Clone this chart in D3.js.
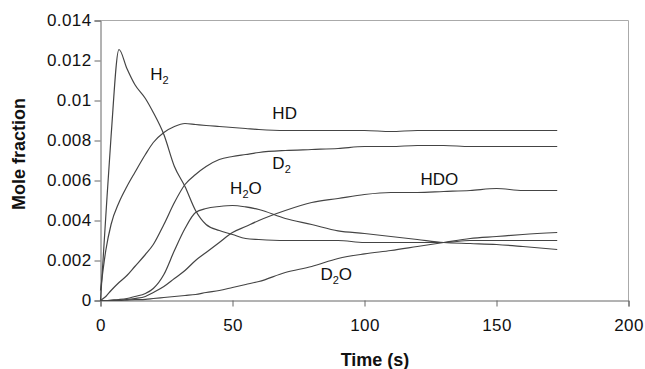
<!DOCTYPE html>
<html>
<head>
<meta charset="utf-8">
<script src="https://cdn.jsdelivr.net/npm/d3@7"></script>
<style>
  body { margin: 0; background: #fff; }
  text { font-family: "Liberation Sans", Arial, sans-serif; fill: #111; }
</style>
</head>
<body>
<div id="chart"></div>
<script>
// time grid (s)
const time = [0, 2, 4, 7, 10, 13, 17, 20, 24, 28, 32, 36, 40, 45, 50, 55, 60, 70, 80, 90, 100, 110, 120, 130, 140, 150, 160, 173];

const h2  = [0, 0.0042, 0.0082, 0.01255, 0.0116, 0.0108, 0.0101, 0.0094, 0.0083, 0.0067, 0.0057, 0.0045, 0.0038, 0.0035, 0.0033, 0.0031, 0.00305, 0.0030, 0.0030, 0.0030, 0.0029, 0.0029, 0.0029, 0.0029, 0.0030, 0.0030, 0.0030, 0.0030];
const hd  = [0.0005, 0.0025, 0.0038, 0.0049, 0.0057, 0.0064, 0.0073, 0.0079, 0.0084, 0.0087, 0.00885, 0.0088, 0.00875, 0.0087, 0.00865, 0.0086, 0.00855, 0.0085, 0.0085, 0.0085, 0.0085, 0.00845, 0.0085, 0.0085, 0.0085, 0.0085, 0.0085, 0.0085];
const d2  = [0, 0.0002, 0.0005, 0.0009, 0.00125, 0.0017, 0.0023, 0.0028, 0.0038, 0.0049, 0.0058, 0.0063, 0.0067, 0.00705, 0.0072, 0.0073, 0.0074, 0.0075, 0.00755, 0.0076, 0.0077, 0.0077, 0.00775, 0.00775, 0.0077, 0.0077, 0.0077, 0.0077];
const h2o = [0, 0, 0.00002, 0.00005, 0.0001, 0.0002, 0.00035, 0.0006, 0.0013, 0.0025, 0.0036, 0.0044, 0.0046, 0.0047, 0.00475, 0.00468, 0.00455, 0.0041, 0.0038, 0.00348, 0.00335, 0.0032, 0.00305, 0.0029, 0.00285, 0.0028, 0.0027, 0.00255];
const hdo = [0, 0, 0, 0.00002, 0.00005, 0.0001, 0.0002, 0.0004, 0.0007, 0.0011, 0.0015, 0.0020, 0.0024, 0.0029, 0.0034, 0.0037, 0.0040, 0.0045, 0.0049, 0.0051, 0.0053, 0.0054, 0.0054, 0.00545, 0.0055, 0.0056, 0.0055, 0.0055];
const d2o = [0, 0, 0, 0, 0.00002, 0.00004, 0.00006, 0.0001, 0.00015, 0.0002, 0.00025, 0.0003, 0.0004, 0.0005, 0.00065, 0.0008, 0.00095, 0.0014, 0.0017, 0.0021, 0.00233, 0.0025, 0.0027, 0.0029, 0.0031, 0.0032, 0.0033, 0.0034];

const series = [h2, hd, d2, h2o, hdo, d2o];

// species labels: [main, subscript, rest] and where they sit (data coords)
const labelText = [["H", "2", ""], ["HD", "", ""], ["D", "2", ""], ["H", "2", "O"], ["HDO", "", ""], ["D", "2", "O"]];
const labelAt = [[18.8, 0.01105], [65.1, 0.0091], [65.1, 0.0066], [49.1, 0.00535], [121.2, 0.0058], [83.3, 0.00105]];

const xTicks = [0, 50, 100, 150, 200];
const yTicks = [0, 0.002, 0.004, 0.006, 0.008, 0.01, 0.012, 0.014];

const W = 645, H = 369;
const margin = {top: 20, right: 17, bottom: 69, left: 100};
const iw = W - margin.left - margin.right;
const ih = H - margin.top - margin.bottom;

const svg = d3.select('#chart').append('svg')
    .attr('width', W)
    .attr('height', H);

const g = svg.append('g')
    .attr('transform', `translate(${margin.left + 0.5},${margin.top + 0.5})`);

const x = d3.scaleLinear().domain([0, 200]).range([0, iw]);
const y = d3.scaleLinear().domain([0, 0.014]).range([ih, 0]);

// light frame on top / right
g.append('path')
    .attr('d', `M0,0H${iw}V${ih}`)
    .attr('fill', 'none')
    .attr('stroke', '#aaa');

const fmt = d => d === 0 ? '0' : String(+d.toFixed(3));

const xAxis = g.append('g')
    .attr('transform', `translate(0,${ih})`)
    .call(d3.axisBottom(x).tickValues(xTicks).tickSize(6).tickPadding(12).tickFormat(d3.format('d')));

const yAxis = g.append('g')
    .call(d3.axisLeft(y).tickValues(yTicks).tickSize(6).tickPadding(3).tickFormat(fmt));

[xAxis, yAxis].forEach(a => {
    a.select('.domain').attr('stroke', '#666');
    a.selectAll('.tick line').attr('stroke', '#666');
    a.selectAll('.tick text')
        .attr('font-size', 17)
        .attr('letter-spacing', 0.4)
        .attr('font-family', '"Liberation Sans", Arial, sans-serif')
        .attr('fill', '#111');
});

const line = d3.line()
    .x((d, i) => x(time[i]))
    .y(d => y(d))
    .curve(d3.curveMonotoneX);

g.selectAll('.series')
    .data(series)
    .join('path')
    .attr('class', 'series')
    .attr('d', line)
    .attr('fill', 'none')
    .attr('stroke', '#444')
    .attr('stroke-width', 1.2);

const lab = g.selectAll('.lab')
    .data(labelText)
    .join('text')
    .attr('class', 'lab')
    .attr('x', (d, i) => x(labelAt[i][0]))
    .attr('y', (d, i) => y(labelAt[i][1]))
    .attr('font-size', 17);

lab.append('tspan').text(d => d[0]);
lab.filter(d => d[1]).append('tspan')
    .attr('font-size', 11)
    .attr('dy', 4)
    .text(d => d[1]);
lab.filter(d => d[2]).append('tspan')
    .attr('dy', -4)
    .text(d => d[2]);

// axis titles
svg.append('text')
    .attr('x', 375)
    .attr('y', 366)
    .attr('text-anchor', 'middle')
    .attr('font-size', 18)
    .attr('font-weight', 'bold')
    .text('Time (s)');

svg.append('text')
    .attr('transform', 'translate(25,154) rotate(-90)')
    .attr('text-anchor', 'middle')
    .attr('font-size', 18)
    .attr('font-weight', 'bold')
    .text('Mole fraction');
</script>
</body>
</html>
